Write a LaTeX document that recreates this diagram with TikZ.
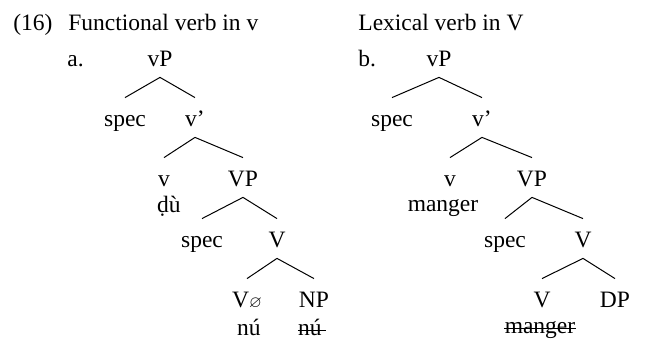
\documentclass[tikz,border=0pt]{standalone}
\usepackage{amssymb}
\usepackage{fontspec}
\setmainfont{Liberation Serif}
\usetikzlibrary{positioning}
\tikzset{
  tn/.style  ={inner sep=0pt,anchor=base,text height=14.5pt,text depth=5pt,
               font=\fontsize{11.75}{14}\selectfont},
  lex/.style ={inner sep=0pt,anchor=base,font=\fontsize{11.75}{14}\selectfont},
  ttl/.style ={inner sep=0pt,anchor=base west,font=\fontsize{11.75}{14}\selectfont},
  br/.style  ={line width=0.5pt},
  strike/.style={line width=0.6pt},
}
\begin{document}
\begin{tikzpicture}[x=0.5pt,y=-0.5pt]
\useasboundingbox (0,0) rectangle (645,340);
% headings
\node[ttl] (num) at (13,31) {(16)};
\node[ttl] (tla) at (68,31) {Functional verb in v};
\node[ttl] (tlb) at (358,31) {Lexical verb in V};
\node[ttl] (la) at (67,67) {a.};
\node[ttl] (lb) at (358,67) {b.};
% tree a
\node[tn] (avP)   at (160,67)  {vP};
\node[tn] (aspec) at (125,127) {spec};
\node[tn] (avb)   at (195,127) {v'};
\node[tn] (av)    at (164,187) {v};
\node[lex] (adu)  at (169,213) {ḍù};
\node[tn] (aVP)   at (243,187) {VP};
\node[tn] (aspc2) at (202,248) {spec};
\node[tn] (aVb)   at (277,248) {V};
\node[tn] (aV0)   at (247,308) {V$\scriptstyle\varnothing$};
\node[tn] (aNP)   at (314,308) {NP};
\node[lex] (anu)  at (249,336) {nú};
\node[lex] (anux) at (310,336) {nú};
\draw[strike] ([yshift=2.6pt]anux.base west) -- ([xshift=2pt,yshift=2.6pt]anux.base east);
\draw[br] (avP.south) -- (aspec.north);
\draw[br] (avP.south) -- (avb.north);
\draw[br] (avb.south) -- (av.north);
\draw[br] (avb.south) -- (aVP.north);
\draw[br] (aVP.south) -- (aspc2.north);
\draw[br] (aVP.south) -- (aVb.north);
\draw[br] (aVb.south) -- (aV0.north);
\draw[br] (aVb.south) -- (aNP.north);
% tree b
\node[tn] (bvP)   at (439,67)  {vP};
\node[tn] (bspec) at (392,127) {spec};
\node[tn] (bvb)   at (482,127) {v'};
\node[tn] (bv)    at (450,187) {v};
\node[lex] (bmg)  at (443,212) {manger};
\node[tn] (bVP)   at (532,187) {VP};
\node[tn] (bspc2) at (505,248) {spec};
\node[tn] (bVb)   at (583,248) {V};
\node[tn] (bV)    at (542,308) {V};
\node[tn] (bDP)   at (615,308) {DP};
\node[lex] (bmgx) at (540,334) {manger};
\draw[strike] ([yshift=2.6pt]bmgx.base west) -- ([yshift=2.6pt]bmgx.base east);
\draw[br] (bvP.south) -- (bspec.north);
\draw[br] (bvP.south) -- (bvb.north);
\draw[br] (bvb.south) -- (bv.north);
\draw[br] (bvb.south) -- (bVP.north);
\draw[br] (bVP.south) -- (bspc2.north);
\draw[br] (bVP.south) -- (bVb.north);
\draw[br] (bVb.south) -- (bV.north);
\draw[br] (bVb.south) -- (bDP.north);
\end{tikzpicture}
\end{document}
